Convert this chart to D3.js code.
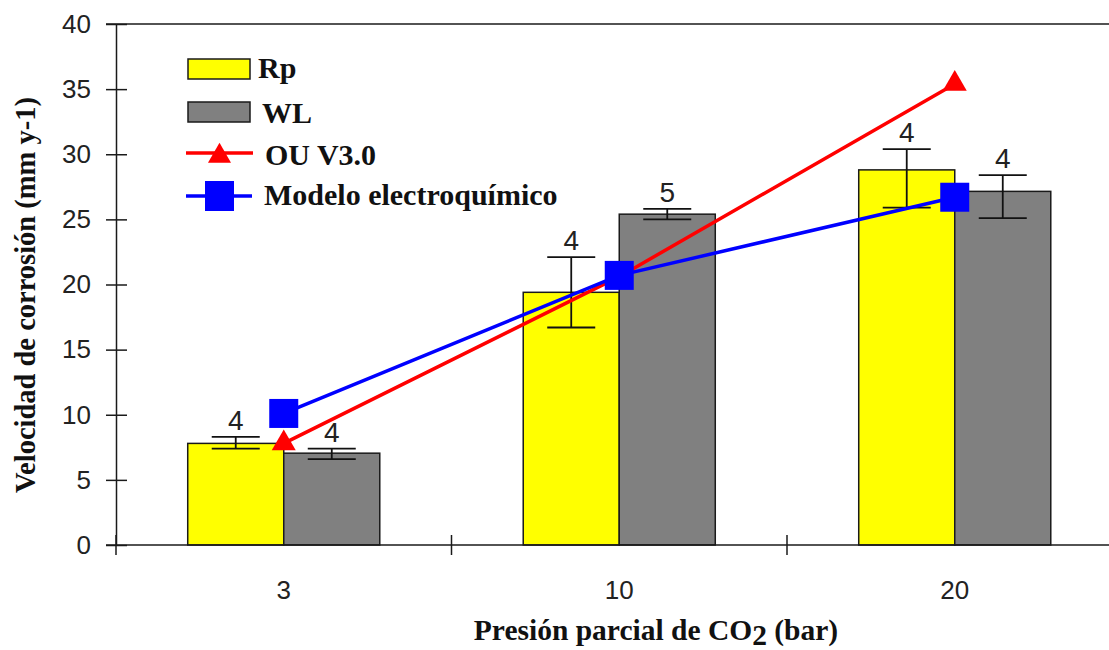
<!DOCTYPE html>
<html>
<head>
<meta charset="utf-8">
<script src="https://cdn.jsdelivr.net/npm/d3@7"></script>
<style>
  body { margin: 0; background: #fff; }
  svg { display: block; }
</style>
</head>
<body>
<div id="chart"></div>
<script>
// data
const categories = ["3", "10", "20"];
const series = ["Rp", "WL"];
const rpValues = [7.8, 19.4, 28.8];
const rpErrHigh = [8.3, 22.1, 30.4];
const rpErrLow = [7.4, 16.7, 25.9];
const rpCounts = [4, 4, 4];
const wlValues = [7.05, 25.4, 27.15];
const wlErrHigh = [7.4, 25.8, 28.4];
const wlErrLow = [6.6, 25.0, 25.1];
const wlCounts = [4, 5, 4];
const ouValues = [7.8, 20.6, 35.4];
const modeloValues = [10.1, 20.7, 26.7];
const yTicks = [0, 5, 10, 15, 20, 25, 30, 35, 40];

const width = 1109, height = 650;
const axisX = 116, axisY = 545, topY = 24;

const svg = d3.select("#chart").append("svg")
  .attr("width", width)
  .attr("height", height);

const x0 = d3.scaleBand().domain(categories).range([axisX, axisX + 3 * 335.5]);
const x1 = d3.scaleBand().domain(series).range([0, x0.bandwidth()]).paddingInner(0).paddingOuter(0.747);
const y = d3.scaleLinear().domain([0, 40]).range([axisY, topY]);

const colors = { Rp: "#ffff00", WL: "#808080" };

// rows for bars
const rows = categories.map((c, i) => ({
  cat: c,
  bars: [
    { key: "Rp", v: rpValues[i], hi: rpErrHigh[i], lo: rpErrLow[i], n: rpCounts[i] },
    { key: "WL", v: wlValues[i], hi: wlErrHigh[i], lo: wlErrLow[i], n: wlCounts[i] }
  ]
}));

const groups = svg.selectAll("g.grp")
  .data(rows)
  .enter().append("g")
  .attr("class", "grp")
  .attr("transform", d => `translate(${x0(d.cat)},0)`);

groups.selectAll("rect")
  .data(d => d.bars)
  .enter().append("rect")
  .attr("x", d => x1(d.key))
  .attr("y", d => y(d.v))
  .attr("width", x1.bandwidth())
  .attr("height", d => y(0) - y(d.v))
  .attr("fill", d => colors[d.key])
  .attr("stroke", "#1a1a1a")
  .attr("stroke-width", 1.5);

// y axis with crossing ticks
svg.append("g")
  .attr("transform", `translate(${axisX},0)`)
  .call(d3.axisLeft(y).tickValues(yTicks).tickSize(10).tickSizeOuter(0).tickPadding(15))
  .call(g => g.select(".domain").attr("stroke", "#1a1a1a").attr("stroke-width", 1.5))
  .call(g => g.selectAll(".tick line").attr("x1", -10).attr("x2", 11).attr("stroke", "#1a1a1a").attr("stroke-width", 1.5))
  .call(g => g.selectAll(".tick text")
    .attr("font-family", "'Liberation Sans', Arial, sans-serif")
    .attr("font-size", 26).attr("fill", "#222"));

// top frame line
svg.append("line")
  .attr("x1", axisX - 10).attr("x2", width)
  .attr("y1", y(40)).attr("y2", y(40))
  .attr("stroke", "#1a1a1a").attr("stroke-width", 1.5);

// x axis line, boundary ticks, centred labels
svg.append("line")
  .attr("x1", axisX - 10).attr("x2", width)
  .attr("y1", axisY).attr("y2", axisY)
  .attr("stroke", "#1a1a1a").attr("stroke-width", 1.5);

svg.selectAll("line.xtick")
  .data(categories)
  .enter().append("line")
  .attr("class", "xtick")
  .attr("x1", d => x0(d)).attr("x2", d => x0(d))
  .attr("y1", axisY - 10).attr("y2", axisY + 10)
  .attr("stroke", "#1a1a1a").attr("stroke-width", 1.5);

svg.selectAll("text.xlab")
  .data(categories)
  .enter().append("text")
  .attr("class", "xlab")
  .attr("x", d => x0(d) + x0.bandwidth() / 2)
  .attr("y", 599)
  .attr("text-anchor", "middle")
  .attr("font-family", "'Liberation Sans', Arial, sans-serif")
  .attr("font-size", 26).attr("fill", "#222")
  .text(d => d);

// error bars
const errs = groups.selectAll("g.err")
  .data(d => d.bars)
  .enter().append("g")
  .attr("class", "err")
  .attr("stroke", "#111").attr("stroke-width", 1.8);
errs.append("line")
  .attr("x1", d => x1(d.key) + x1.bandwidth() / 2).attr("x2", d => x1(d.key) + x1.bandwidth() / 2)
  .attr("y1", d => y(d.hi)).attr("y2", d => y(d.lo));
errs.append("line")
  .attr("x1", d => x1(d.key) + x1.bandwidth() / 2 - 24).attr("x2", d => x1(d.key) + x1.bandwidth() / 2 + 24)
  .attr("y1", d => y(d.hi)).attr("y2", d => y(d.hi));
errs.append("line")
  .attr("x1", d => x1(d.key) + x1.bandwidth() / 2 - 24).attr("x2", d => x1(d.key) + x1.bandwidth() / 2 + 24)
  .attr("y1", d => y(d.lo)).attr("y2", d => y(d.lo));

// counts above error bars
groups.selectAll("text.n")
  .data(d => d.bars)
  .enter().append("text")
  .attr("class", "n")
  .attr("x", d => x1(d.key) + x1.bandwidth() / 2)
  .attr("y", d => y(d.hi) - 7)
  .attr("text-anchor", "middle")
  .attr("font-family", "'Liberation Sans', Arial, sans-serif")
  .attr("font-size", 28).attr("fill", "#222")
  .text(d => d.n);

// model lines
const cx = c => x0(c) + x0.bandwidth() / 2;
const line = d3.line().x((d, i) => cx(categories[i])).y(d => y(d));

svg.append("path")
  .datum(ouValues)
  .attr("d", line)
  .attr("fill", "none").attr("stroke", "#ff0000").attr("stroke-width", 3.5);

svg.selectAll("path.tri")
  .data(ouValues)
  .enter().append("path")
  .attr("class", "tri")
  .attr("d", d3.symbol().type(d3.symbolTriangle).size(250))
  .attr("transform", (d, i) => `translate(${cx(categories[i])},${y(d)})`)
  .attr("fill", "#ff0000");

svg.append("path")
  .datum(modeloValues)
  .attr("d", line)
  .attr("fill", "none").attr("stroke", "#0000ff").attr("stroke-width", 3.5);

svg.selectAll("rect.sq")
  .data(modeloValues)
  .enter().append("rect")
  .attr("class", "sq")
  .attr("x", (d, i) => cx(categories[i]) - 14.5)
  .attr("y", d => y(d) - 14.5)
  .attr("width", 29).attr("height", 29)
  .attr("fill", "#0000ff");

// legend
const legendFont = "'Liberation Serif', 'Times New Roman', serif";
const legend = svg.append("g");
legend.append("rect").attr("x", 188).attr("y", 59).attr("width", 62).attr("height", 20)
  .attr("fill", colors.Rp).attr("stroke", "#1a1a1a").attr("stroke-width", 1.5);
legend.append("rect").attr("x", 188).attr("y", 102).attr("width", 62).attr("height", 20)
  .attr("fill", colors.WL).attr("stroke", "#1a1a1a").attr("stroke-width", 1.5);
legend.append("line").attr("x1", 186).attr("x2", 253).attr("y1", 153).attr("y2", 153)
  .attr("stroke", "#ff0000").attr("stroke-width", 3.5);
legend.append("path")
  .attr("d", d3.symbol().type(d3.symbolTriangle).size(230))
  .attr("transform", "translate(219.5,156)").attr("fill", "#ff0000");
legend.append("line").attr("x1", 186).attr("x2", 252).attr("y1", 196).attr("y2", 196)
  .attr("stroke", "#0000ff").attr("stroke-width", 3.5);
legend.append("rect").attr("x", 205).attr("y", 181).attr("width", 29).attr("height", 30)
  .attr("fill", "#0000ff");

const legendItems = [
  { label: "Rp", x: 258, y: 78 },
  { label: "WL", x: 262, y: 123 },
  { label: "OU V3.0", x: 265, y: 165 },
  { label: "Modelo electroquímico", x: 264, y: 205 }
];
legend.selectAll("text")
  .data(legendItems)
  .enter().append("text")
  .attr("x", d => d.x).attr("y", d => d.y)
  .attr("font-family", legendFont)
  .attr("font-weight", "bold")
  .attr("font-size", 30).attr("fill", "#111")
  .text(d => d.label);

// axis titles
svg.append("text")
  .attr("transform", "translate(35,295) rotate(-90)")
  .attr("text-anchor", "middle")
  .attr("font-family", legendFont)
  .attr("font-weight", "bold")
  .attr("font-size", 28.5).attr("fill", "#111")
  .text("Velocidad de corrosión (mm y-1)");

const xt = svg.append("text")
  .attr("x", 656).attr("y", 640)
  .attr("text-anchor", "middle")
  .attr("font-family", legendFont)
  .attr("font-weight", "bold")
  .attr("font-size", 29.5).attr("fill", "#111");
xt.append("tspan").text("Presión parcial de CO");
xt.append("tspan").attr("dy", 5).text("2");
xt.append("tspan").attr("dy", -5).text(" (bar)");
</script>
</body>
</html>
